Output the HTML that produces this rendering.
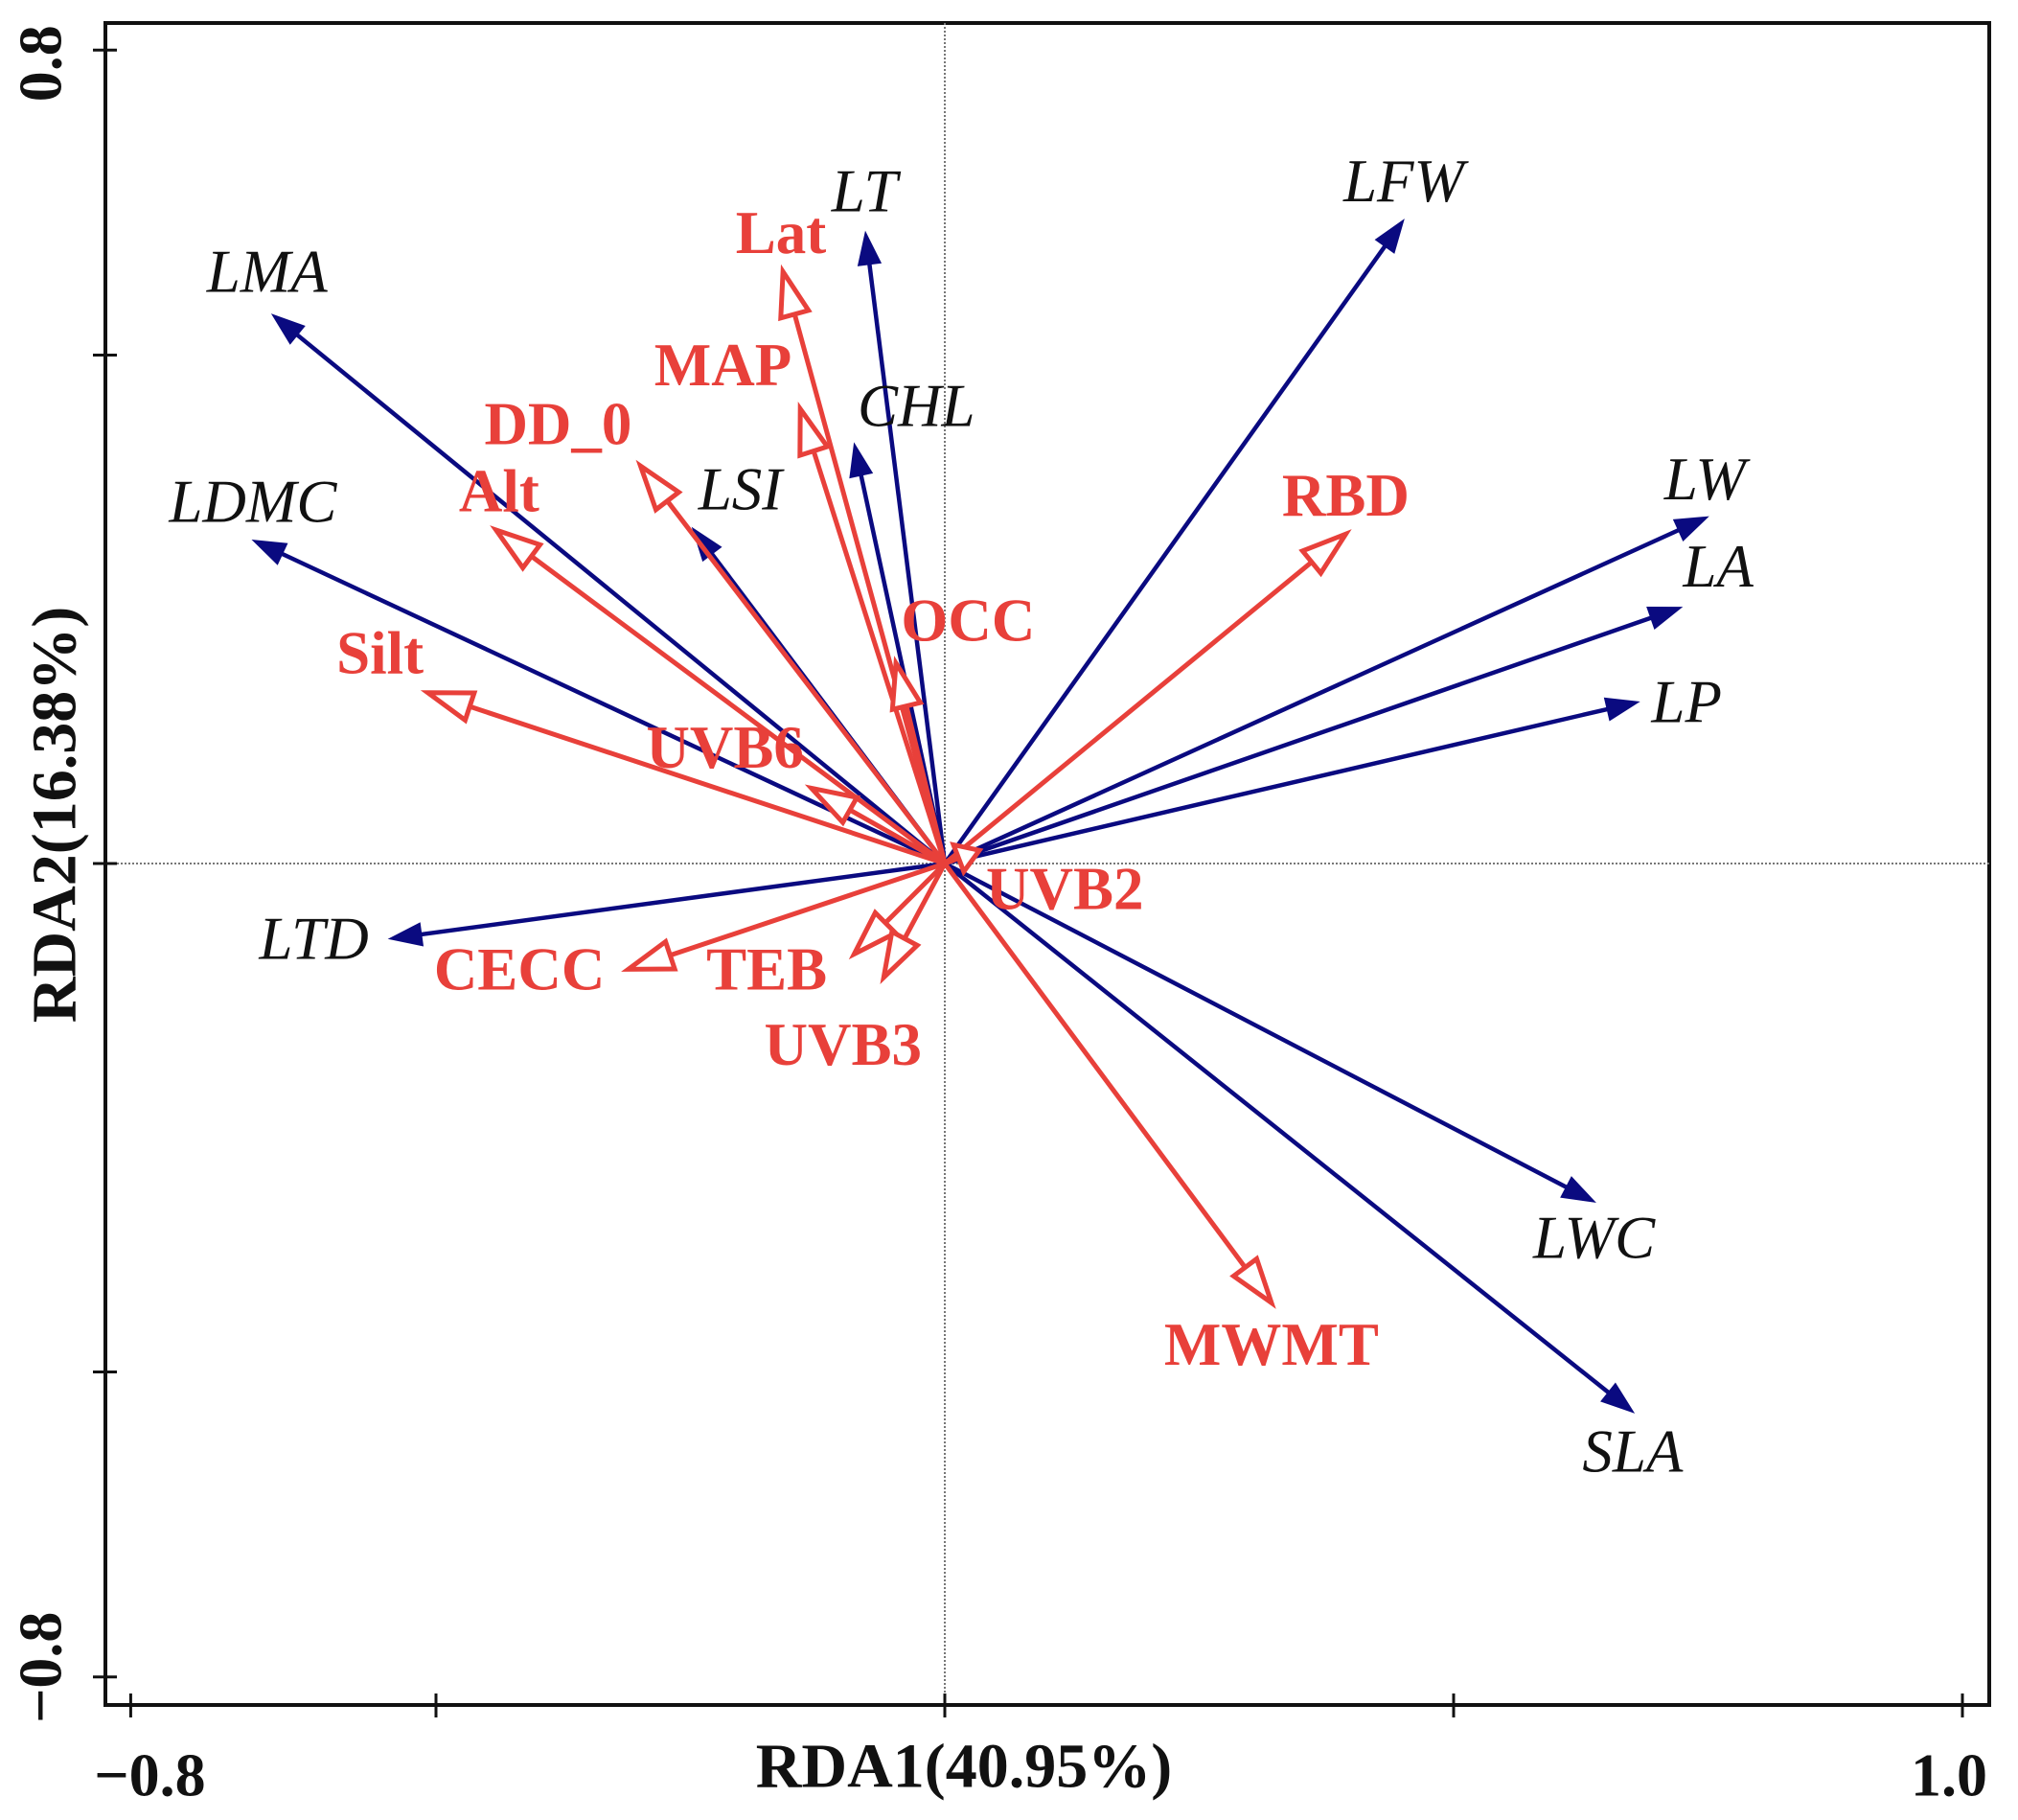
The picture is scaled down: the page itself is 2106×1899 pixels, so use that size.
<!DOCTYPE html>
<html><head><meta charset="utf-8"><style>
html,body{margin:0;padding:0;background:#fff;}
svg{display:block;}
</style></head><body>
<svg id="chart" width="2106" height="1899" viewBox="0 0 2106 1899" xmlns="http://www.w3.org/2000/svg">
<rect x="110" y="24" width="1966" height="1755" fill="none" stroke="#111" stroke-width="4"/>
<g id="axes"></g>
<g id="marks"></g>
<text x="1006" y="1843" font-family="Liberation Serif, serif" font-weight="bold" font-size="66" text-anchor="middle" dominant-baseline="central" fill="#111">RDA1(40.95%)</text>
<text transform="translate(57,850) rotate(-90)" font-family="Liberation Serif, serif" font-weight="bold" font-size="66" text-anchor="middle" dominant-baseline="central" fill="#111">RDA2(16.38%)</text>
</svg>
<script>
const traitNames=["LMA","LDMC","LTD","LSI","CHL","LT","LFW","LW","LA","LP","LWC","SLA"];
const traitX=[-0.661,-0.680,-0.546,-0.248,-0.089,-0.078,0.451,0.750,0.724,0.682,0.639,0.677];
const traitY=[0.540,0.318,-0.074,0.330,0.413,0.621,0.633,0.341,0.252,0.159,-0.333,-0.540];
const traitLabelX=[-0.666,-0.680,-0.620,-0.201,-0.028,-0.079,0.451,0.747,0.760,0.729,0.638,0.676];
const traitLabelY=[0.582,0.356,-0.074,0.368,0.450,0.661,0.671,0.378,0.292,0.159,-0.368,-0.578];
const envNames=["Lat","MAP","DD_0","Alt","Silt","UVB6","OCC","RBD","UVB2","CECC","TEB","UVB3","MWMT"];
const envX=[-0.159,-0.142,-0.299,-0.441,-0.508,-0.131,-0.048,0.394,0.034,-0.311,-0.089,-0.060,0.321];
const envY=[0.582,0.447,0.391,0.328,0.168,0.074,0.197,0.324,0.013,-0.104,-0.089,-0.112,-0.432];
const envLabelX=[-0.161,-0.218,-0.380,-0.438,-0.555,-0.216,0.023,0.394,0.118,-0.418,-0.175,-0.100,0.321];
const envLabelY=[0.620,0.490,0.432,0.366,0.207,0.114,0.239,0.362,-0.025,-0.104,-0.104,-0.178,-0.473];
const xTicks=[-0.8,-0.5,0,0.5,1.0];
const yTicks=[0.8,0.5,0,-0.5,-0.8];
const xTickLabels=["\u22120.8","","","","1.0"];
const yTickLabels=["0.8","","","","\u22120.8"];

const NS="http://www.w3.org/2000/svg";
const sx=v=>986+v*1062;
const sy=v=>901-v*1061;
function mk(tag,attrs,parent){const e=document.createElementNS(NS,tag);for(const k in attrs)e.setAttribute(k,attrs[k]);parent.appendChild(e);return e;}
const axes=document.getElementById('axes');
const marks=document.getElementById('marks');

let zl=mk('line',{x1:sx(0),x2:sx(0),y1:24,y2:1779,stroke:'#777','stroke-width':2,'stroke-dasharray':'2,2'},axes);


zl=mk('line',{x1:110,x2:2076,y1:sy(0),y2:sy(0),stroke:'#777','stroke-width':2,'stroke-dasharray':'2,2'},axes);



xTicks.forEach((t,i)=>{
  const l=mk('line',{x1:sx(t),x2:sx(t),y1:1767,y2:1792,stroke:'#111','stroke-width':3},axes);
  
  
  if(xTickLabels[i]){
    const tx=mk('text',{x:sx(t)+(i===0?20:-14),y:1852,'font-family':'Liberation Serif, serif','font-weight':'bold','font-size':64,'text-anchor':'middle','dominant-baseline':'central',fill:'#111'},axes);
    tx.textContent=xTickLabels[i];
    
    
  }
});
yTicks.forEach((t,i)=>{
  const l=mk('line',{x1:97,x2:122,y1:sy(t),y2:sy(t),stroke:'#111','stroke-width':3},axes);
  
  
  if(yTickLabels[i]){
    const ty=sy(t)+(i===0?14:-10);
    const tx=mk('text',{transform:`translate(42,${ty}) rotate(-90)`,'font-family':'Liberation Serif, serif','font-weight':'bold','font-size':64,'text-anchor':'middle','dominant-baseline':'central',fill:'#111'},axes);
    tx.textContent=yTickLabels[i];
    
    
  }
});

function arrow(x,y,color,open,w,hl,hw){
  const x0=sx(0),y0=sy(0),x1=sx(x),y1=sy(y);
  const dx=x1-x0,dy=y1-y0,L=Math.hypot(dx,dy)||1,ux=dx/L,uy=dy/L;
  const bx=x1-ux*hl,by=y1-uy*hl;
  const g=mk('g',{},marks);
  mk('line',{x1:x0,y1:y0,x2:bx,y2:by,stroke:color,'stroke-width':w},g);
  const pts=`${x1},${y1} ${bx-uy*hw},${by+ux*hw} ${bx+uy*hw},${by-ux*hw}`;
  mk('polygon',{points:pts,fill:open?'#fff':color,stroke:color,'stroke-width':open?5:1,'stroke-linejoin':'miter'},g);
  return g;
}
function label(x,y,txt,color,italic,bold){
  const t=mk('text',{x:sx(x),y:sy(y),'font-family':'Liberation Serif, serif','font-size':63,'text-anchor':'middle','dominant-baseline':'central',fill:color},marks);
  if(italic)t.setAttribute('font-style','italic');
  if(bold)t.setAttribute('font-weight','bold');
  t.textContent=txt;
  return t;
}
traitNames.forEach((n,i)=>{
  const g=arrow(traitX[i],traitY[i],'#0a0a80',false,4.5,34,12);
  
  
});
envNames.forEach((n,i)=>{
  const g=arrow(envX[i],envY[i],'#e8403a',true,5,Math.min(46,0.6*Math.hypot(sx(envX[i])-sx(0),sy(envY[i])-sy(0))),15);
  
  
});
traitNames.forEach((n,i)=>{
  const t=label(traitLabelX[i],traitLabelY[i],n,'#111',true,false);
  
  
});
envNames.forEach((n,i)=>{
  const t=label(envLabelX[i],envLabelY[i],n,'#e8403a',false,true);
  
  
});
</script>
</body></html>
